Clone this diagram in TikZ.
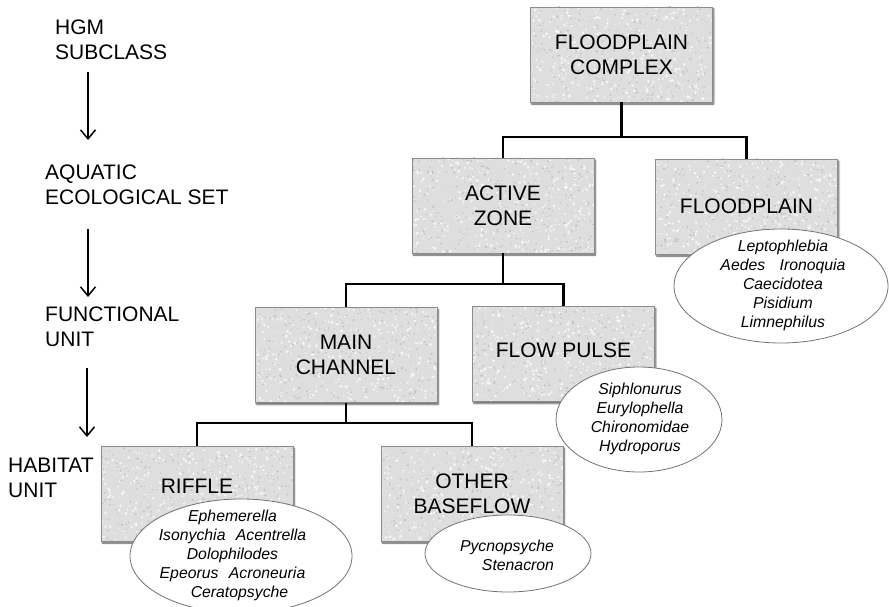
\documentclass[tikz,border=0pt]{standalone}
\usepackage{fontspec}
\setmainfont{Liberation Sans}
\usetikzlibrary{shapes.geometric,arrows.meta,shadows.blur}

% type sizes
\newcommand\tierfont{\fontsize{21}{25}\selectfont}
\newcommand\taxafont{\itshape\fontsize{15.8}{19}\selectfont}

% speckled stone-like texture for the hierarchy boxes
\newcommand\grain{%
  \foreach \k in {1,...,420}{%
    \pgfmathsetmacro\gr{0.4+1.2*rnd}%
    \fill[black!3] (path picture bounding box.center) ++({rand*97},{rand*50}) circle[radius=\gr pt];
  }%
  \foreach \k in {1,...,380}{%
    \pgfmathsetmacro\gr{0.35+0.8*rnd}%
    \fill[black!24] (path picture bounding box.center) ++({rand*97},{rand*50}) circle[radius=\gr pt];
  }}

\begin{document}
\begin{tikzpicture}[x=1pt,y=-1pt,
  tier/.style={rectangle, draw=black!45, line width=0.8pt, fill=black!13,
    inner sep=0pt, minimum width=182pt, minimum height=95pt,
    align=center, font=\tierfont,
    blur shadow={shadow xshift=1.4pt, shadow yshift=-2pt,
      shadow blur radius=1.6pt, shadow blur steps=6, shadow opacity=65},
    path picture={\grain}},
  bugs/.style={ellipse, draw=black!55, line width=0.8pt, fill=white, inner sep=0pt},
  taxa/.style={align=center, inner sep=0pt, font=\taxafont},
  level/.style={anchor=west, align=left, inner sep=0pt, font=\tierfont},
  link/.style={line width=2.8pt, black},
  down/.style={line width=1.5pt, black, -{Straight Barb[length=9pt, width=15pt]}}
]
\pgfmathsetseed{11}
\useasboundingbox (0,0) rectangle (889,607);

% hierarchy levels on the left
\node[level] (hgm) at (55,39.5) {HGM\\SUBCLASS};
\node[level] (aes) at (45,185) {AQUATIC\\ECOLOGICAL SET};
\node[level] (fu)  at (45,327) {FUNCTIONAL\\UNIT};
\node[level] (hu)  at (8,478)  {HABITAT\\UNIT};

\coordinate (a1s) at (88,72);  \coordinate (a1e) at (88,140);
\coordinate (a2s) at (88,229); \coordinate (a2e) at (88,297);
\coordinate (a3s) at (87,368); \coordinate (a3e) at (87,437);
\draw[down] (a1s) -- (a1e);
\draw[down] (a2s) -- (a2e);
\draw[down] (a3s) -- (a3e);

% classification boxes
\node[tier] (fc)    at (621.5,54.5) {FLOODPLAIN\\COMPLEX};
\node[tier] (az)    at (503,205.5)  {ACTIVE\\ZONE};
\node[tier] (fp)    at (746.5,206.5){FLOODPLAIN};
\node[tier] (mc)    at (346,355)    {MAIN\\CHANNEL};
\node[tier, text depth=8pt] (pulse) at (563.5,354) {FLOW PULSE};
\node[tier, minimum width=192pt, text depth=14pt] (rif) at (197,493.5) {RIFFLE};
\node[tier] (ob)    at (472,493.5)  {OTHER\\BASEFLOW};

% tree connectors
\coordinate (j1) at (0,137);
\coordinate (j2) at (0,284);
\coordinate (j3) at (0,423);
\draw[link] (fc.south) -- (fc.south |- j1);
\draw[link] (az.north) |- (fc.south |- j1) -| (fp.north);
\draw[link] (az.south) -- (az.south |- j2);
\draw[link] (mc.north) |- (az.south |- j2) -| (pulse.north);
\draw[link] (mc.south) -- (mc.south |- j3);
\draw[link] (rif.north) |- (mc.south |- j3) -| (ob.north);

% characteristic taxa
\node[bugs, minimum width=214pt, minimum height=114pt] (fpbugs) at (781,286) {};
\node[taxa] (fplist) at (783,285.5)
  {Leptophlebia\\Aedes\hspace{10pt} Ironoquia\\Caecidotea\\Pisidium\\Limnephilus};

\node[bugs, minimum width=166pt, minimum height=105pt] (pulsebugs) at (639,419.5) {};
\node[taxa] (pulselist) at (640,418.5)
  {Siphlonurus\\Eurylophella\\Chironomidae\\Hydroporus};

\node[bugs, minimum width=222pt, minimum height=114pt] (rifbugs) at (241,556) {};
\node[taxa] (riflist) at (232.5,555)
  {Ephemerella\\Isonychia\hspace{6pt} Acentrella\\Dolophilodes\\
   Epeorus\hspace{6pt} Acroneuria\hspace*{16pt}\\\hspace*{14pt}Ceratopsyche};

\node[bugs, minimum width=166pt, minimum height=77pt] (obbugs) at (508,553.5) {};
\node[taxa] (oblist) at (507,555)
  {Pycnopsyche\\\hspace*{22pt}Stenacron};
\end{tikzpicture}
\end{document}
